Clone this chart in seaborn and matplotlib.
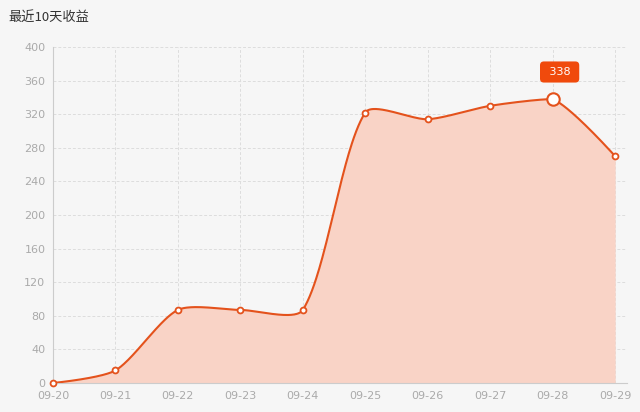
import numpy as np
import pandas as pd
import matplotlib
matplotlib.use("Agg")
import matplotlib.pyplot as plt
import seaborn as sns

dates = ["09-20", "09-21", "09-22", "09-23", "09-24", "09-25", "09-26", "09-27", "09-28", "09-29"]
values = [0, 15, 87, 87, 87, 322, 314, 330, 338, 270]
yticks = [0, 40, 80, 120, 160, 200, 240, 280, 320, 360, 400]
title = "最近10天收益"
highlight_idx = 8

sns.set_theme(style="white")
plt.rcParams['font.family'] = ['Noto Sans CJK SC', 'DejaVu Sans']

bg = "#f6f6f6"
line_c = "#e4521c"
fill_c = "#f9d3c6"

fig = plt.figure(figsize=(6.4, 4.12), dpi=100, facecolor=bg)
ax = fig.add_axes([53/640, 1-383/412, (627-53)/640, (383-47)/412], facecolor=bg)

x = np.arange(len(values), dtype=float)
y = np.array(values, dtype=float)

# Bezier smoothing with bounding-box constraint (computed in display-like units)
def smooth_path(x, y, smooth=0.25, n=60, sx=62.44, sy=0.84):
    P = np.column_stack([x * sx, y * sy])
    lo, hi = P.min(axis=0), P.max(axis=0)
    m = len(P)
    cps = [P[0].copy()]
    for i in range(1, m - 1):
        v = (P[i + 1] - P[i - 1]) * smooth
        d0 = np.linalg.norm(P[i] - P[i - 1])
        d1 = np.linalg.norm(P[i] - P[i + 1])
        s = d0 + d1
        d0, d1 = d0 / s, d1 / s
        c0 = np.clip(P[i] - v * d0, lo, hi)
        c1 = np.clip(P[i] + v * d1, lo, hi)
        cps += [c0, c1]
    cps.append(P[-1].copy())
    t = np.linspace(0, 1, n, endpoint=False)[:, None]
    pts = []
    for i in range(m - 1):
        a, b, c, d = P[i], cps[2 * i], cps[2 * i + 1], P[i + 1]
        pts.append((1 - t) ** 3 * a + 3 * (1 - t) ** 2 * t * b + 3 * (1 - t) * t ** 2 * c + t ** 3 * d)
    pts.append(P[-1][None, :])
    pts = np.vstack(pts)
    return pts[:, 0] / sx, pts[:, 1] / sy

cx, cy = smooth_path(x, y)
ax.fill_between(cx, cy, 0, color=fill_c, lw=0, zorder=1)
sns.lineplot(x=cx, y=cy, ax=ax, color=line_c, lw=1.5, zorder=3, sort=False, estimator=None)
df = pd.DataFrame({"x": x, "y": y})
ax.scatter(df["x"], df["y"], s=18, facecolor="white", edgecolor=line_c, lw=1.3, zorder=4, clip_on=False)
ax.scatter([x[highlight_idx]], [y[highlight_idx]], s=80, facecolor="white", edgecolor=line_c, lw=1.5, zorder=5)

ax.annotate(" " + str(values[highlight_idx]) + " ", (x[highlight_idx], y[highlight_idx]), xytext=(5, 19.5),
            textcoords="offset points", ha="center", va="center", color="white", fontsize=8,
            family=['DejaVu Sans'],
            bbox=dict(boxstyle="round,pad=0.5,rounding_size=0.35", fc="#f04a0c", ec="none"), zorder=6)

ax.set_xlim(0, 9.19)
ax.set_ylim(0, 400)
ax.set_xticks(x)
ax.set_xticklabels(dates)
ax.set_yticks(yticks)
ax.grid(True, color="#dddddd", ls=(0, (3, 2)), lw=0.7, zorder=0)
ax.set_axisbelow(True)
for s in ["top", "right"]:
    ax.spines[s].set_visible(False)
for s in ["left", "bottom"]:
    ax.spines[s].set_color("#cccccc")
    ax.spines[s].set_linewidth(0.8)
ax.tick_params(axis="both", colors="#aaaaaa", labelsize=8, length=4, width=0.8, pad=1.5)
ax.tick_params(axis="x", length=0, pad=6)
for lab in ax.get_xticklabels() + ax.get_yticklabels():
    lab.set_family(['DejaVu Sans'])

fig.text(8/640, 1-17/412, title, fontsize=9.5, color="#333333", va="center", ha="left")

fig.savefig("out.png", dpi=100, facecolor=bg)
